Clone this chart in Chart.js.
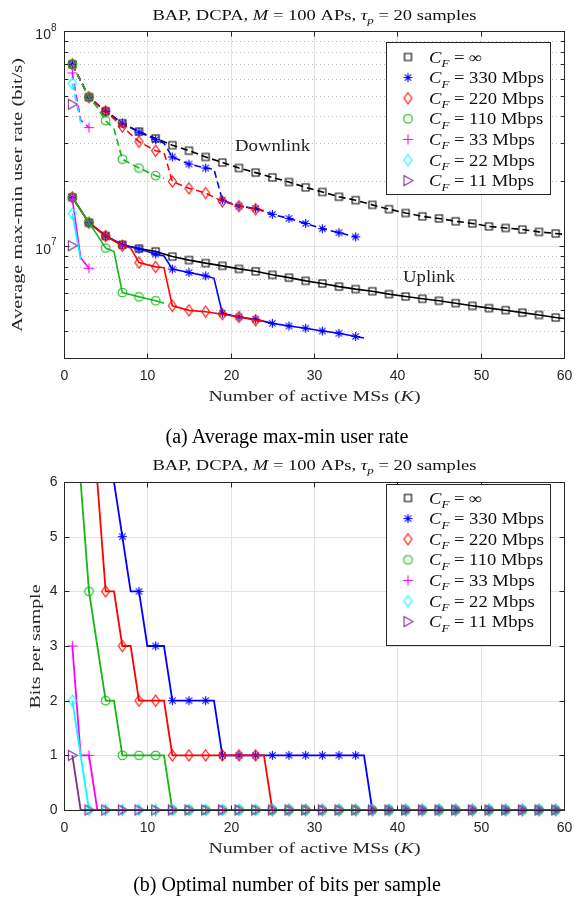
<!DOCTYPE html>
<html>
<head>
<meta charset="utf-8">
<script src="https://cdn.jsdelivr.net/npm/chart.js@4.4.1/dist/chart.umd.min.js"></script>
<style>
  body { margin: 0; background: #fff; width: 574px; height: 900px; position: relative; overflow: hidden; }
  canvas { position: absolute; left: 0; }
  #rate { top: 0; }
  #bits { top: 440px; }
  .cap { position: absolute; left: 0; width: 574px; text-align: center; font-family: "Liberation Serif", serif; font-size: 20px; color: #000; line-height: 22px; }
</style>
</head>
<body>
<canvas id="rate" width="574" height="440"></canvas>
<div class="cap" style="top:425px">(a) Average max-min user rate</div>
<canvas id="bits" width="574" height="460"></canvas>
<div class="cap" style="top:873px">(b) Optimal number of bits per sample</div>
<script>
// ---- données ----
const kTicks = [0, 10, 20, 30, 40, 50, 60];
const bitTicks = [0, 1, 2, 3, 4, 5, 6];
const rateMajor = [1e7, 1e8];
const rateMinor = [4e6, 5e6, 6e6, 7e6, 8e6, 9e6, 2e7, 3e7, 4e7, 5e7, 6e7, 7e7, 8e7, 9e7];
const seriesLabels = ['∞', '330 Mbps', '220 Mbps', '110 Mbps', '33 Mbps', '22 Mbps', '11 Mbps'];

// débit descendant [K, bit/s]
const dlInf = [[1,7.0e7],[3,4.92e7],[5,4.23e7],[7,3.72e7],[9,3.40e7],[11,3.16e7],[13,2.94e7],[15,2.77e7],[17,2.59e7],[19,2.44e7],[21,2.30e7],[23,2.19e7],[25,2.08e7],[27,1.98e7],[29,1.87e7],[31,1.78e7],[33,1.69e7],[35,1.63e7],[37,1.55e7],[39,1.48e7],[41,1.42e7],[43,1.37e7],[45,1.34e7],[47,1.30e7],[49,1.27e7],[51,1.23e7],[53,1.21e7],[55,1.19e7],[57,1.16e7],[59,1.14e7],[60,1.13e7]];
const dl330 = [[1,7.0e7],[3,4.92e7],[5,4.23e7],[7,3.72e7],[9,3.38e7],[11,3.12e7],[12,3.0e7],[13,2.59e7],[15,2.40e7],[17,2.30e7],[18,2.27e7],[19,1.63e7],[21,1.53e7],[23,1.49e7],[25,1.40e7],[27,1.34e7],[29,1.27e7],[31,1.20e7],[33,1.15e7],[35,1.10e7]];
const dl220 = [[1,7.0e7],[3,4.92e7],[5,4.23e7],[7,3.59e7],[9,3.05e7],[11,2.77e7],[12,2.72e7],[13,1.99e7],[15,1.85e7],[17,1.76e7],[19,1.61e7],[21,1.53e7],[23,1.48e7],[24,1.46e7]];
const dl110 = [[1,7.0e7],[3,4.92e7],[4,4.4e7],[5,3.82e7],[6,3.5e7],[7,2.53e7],[9,2.30e7],[11,2.12e7],[12,2.06e7]];
const dl33 = [[1,6.38e7],[2,3.85e7],[3,3.55e7]];
const dl22 = [[1,5.7e7],[2,3.75e7]];
const dl11 = [[1,4.56e7]];

// débit montant [K, bit/s]
const ulInf = [[1,1.68e7],[3,1.28e7],[5,1.11e7],[7,1.01e7],[9,9.7e6],[11,9.4e6],[13,8.9e6],[15,8.57e6],[17,8.3e6],[19,8.06e6],[21,7.8e6],[23,7.6e6],[25,7.32e6],[27,7.1e6],[29,6.86e6],[31,6.67e6],[33,6.45e6],[35,6.28e6],[37,6.14e6],[39,5.95e6],[41,5.8e6],[43,5.66e6],[45,5.54e6],[47,5.4e6],[49,5.25e6],[51,5.12e6],[53,5.01e6],[55,4.88e6],[57,4.76e6],[59,4.63e6],[60,4.58e6]];
const ul330 = [[1,1.68e7],[3,1.28e7],[5,1.11e7],[7,1.01e7],[9,9.65e6],[11,9.15e6],[12,8.95e6],[13,7.78e6],[15,7.5e6],[17,7.24e6],[18,7.05e6],[19,4.85e6],[21,4.66e6],[23,4.54e6],[25,4.35e6],[27,4.23e6],[29,4.13e6],[31,4.01e6],[33,3.91e6],[35,3.78e6],[36,3.72e6]];
const ul220 = [[1,1.68e7],[3,1.28e7],[5,1.11e7],[7,1.0e7],[8,9.75e6],[9,8.35e6],[11,7.97e6],[12,7.9e6],[13,5.25e6],[15,5.0e6],[17,4.93e6],[19,4.8e6],[21,4.66e6],[23,4.5e6],[24,4.45e6]];
const ul110 = [[1,1.68e7],[3,1.28e7],[4,1.12e7],[5,9.75e6],[6,9.4e6],[7,6.05e6],[9,5.78e6],[11,5.54e6],[12,5.4e6]];
const ul33 = [[1,1.65e7],[2,8.8e6],[3,7.85e6]];
const ul22 = [[1,1.41e7],[2,8.6e6]];
const ul11 = [[1,1.0e7]];

// bits par échantillon, K = 1..60 (∞ : hors graphe)
const bitsInf = [];
const bits330 = [9,8,8,7,7,6,5,4,4,3, 3,3,2,2,2,2,2,2,1,1, 1,1,1,1,1,1,1,1,1,1, 1,1,1,1,1,1,0,0,0,0, 0,0,0,0,0,0,0,0,0,0, 0,0,0,0,0,0,0,0,0,0];
const bits220 = [8,8,7,6,4,4,3,3,2,2, 2,2,1,1,1,1,1,1,1,1, 1,1,1,1,0,0,0,0,0,0, 0,0,0,0,0,0,0,0,0,0, 0,0,0,0,0,0,0,0,0,0, 0,0,0,0,0,0,0,0,0,0];
const bits110 = [7,6,4,3,2,2,1,1,1,1, 1,1,0,0,0,0,0,0,0,0, 0,0,0,0,0,0,0,0,0,0, 0,0,0,0,0,0,0,0,0,0, 0,0,0,0,0,0,0,0,0,0, 0,0,0,0,0,0,0,0,0,0];
const bits33 = [3,1,1,0,0,0,0,0,0,0, 0,0,0,0,0,0,0,0,0,0, 0,0,0,0,0,0,0,0,0,0, 0,0,0,0,0,0,0,0,0,0, 0,0,0,0,0,0,0,0,0,0, 0,0,0,0,0,0,0,0,0,0];
const bits22 = [2,1,0,0,0,0,0,0,0,0, 0,0,0,0,0,0,0,0,0,0, 0,0,0,0,0,0,0,0,0,0, 0,0,0,0,0,0,0,0,0,0, 0,0,0,0,0,0,0,0,0,0, 0,0,0,0,0,0,0,0,0,0];
const bits11 = [1,0,0,0,0,0,0,0,0,0, 0,0,0,0,0,0,0,0,0,0, 0,0,0,0,0,0,0,0,0,0, 0,0,0,0,0,0,0,0,0,0, 0,0,0,0,0,0,0,0,0,0, 0,0,0,0,0,0,0,0,0,0];

const dlSeries = [dlInf, dl330, dl220, dl110, dl33, dl22, dl11];
const ulSeries = [ulInf, ul330, ul220, ul110, ul33, ul22, ul11];
const bitSeries = [bitsInf, bits330, bits220, bits110, bits33, bits22, bits11];

// ---- style ----
const colors = ['#000000', '#0000ff', '#ff0000', '#14b814', '#ff00ff', '#00ffff', '#7e2f8e'];
const shapes = ['square', 'star', 'diamond', 'circle', 'plus', 'diamond', 'triangle'];
const AXIS = '#262626';
const SERIF = '"Liberation Serif", serif';
const SANS = '"Liberation Sans", Arial, sans-serif';

function markerCanvas(shape, color) {
    const c = document.createElement('canvas');
    c.width = 15; c.height = 15;
    const g = c.getContext('2d');
    const m = 7.5;
    g.strokeStyle = color;
    g.lineWidth = 1.1;
    g.beginPath();
    if (shape === 'square') g.rect(m - 3.5, m - 3.5, 7, 7);
    else if (shape === 'circle') g.arc(m, m, 4.3, 0, Math.PI * 2);
    else if (shape === 'diamond') { g.moveTo(m, m - 5.5); g.lineTo(m + 4, m); g.lineTo(m, m + 5.5); g.lineTo(m - 4, m); g.closePath(); }
    else if (shape === 'plus') { g.moveTo(m - 5, m); g.lineTo(m + 5, m); g.moveTo(m, m - 5); g.lineTo(m, m + 5); }
    else if (shape === 'star') {
        g.moveTo(m - 4.5, m); g.lineTo(m + 4.5, m); g.moveTo(m, m - 4.5); g.lineTo(m, m + 4.5);
        g.moveTo(m - 3.2, m - 3.2); g.lineTo(m + 3.2, m + 3.2); g.moveTo(m - 3.2, m + 3.2); g.lineTo(m + 3.2, m - 3.2);
    }
    else if (shape === 'triangle') { g.moveTo(m - 4, m - 5); g.lineTo(m + 5, m); g.lineTo(m - 4, m + 5); g.closePath(); }
    g.stroke();
    return c;
}
const markerImgs = shapes.map((s, i) => markerCanvas(s, colors[i]));

// texte "riche" : [texte, style] style: '' | 'i' | 'si' (indice italique)
function richWidth(ctx, parts, size) {
    let w = 0;
    parts.forEach(([t, s]) => { ctx.font = fontOf(s, size); w += ctx.measureText(t).width; });
    return w;
}
function fontOf(s, size) {
    return (s.includes('i') ? 'italic ' : '') + (s.includes('s') ? size * 0.7 : size) + 'px ' + SERIF;
}
function rich(ctx, parts, x, y, size, align, color, targetW, stretch) {
    const w = richWidth(ctx, parts, size);
    const sx = targetW ? targetW / w : (stretch || 1);
    const W = w * sx;
    const x0 = align === 'center' ? x - W / 2 : (align === 'right' ? x - W : x);
    ctx.save();
    ctx.translate(x0, y);
    ctx.scale(sx, 1);
    ctx.textAlign = 'left';
    ctx.textBaseline = 'alphabetic';
    ctx.fillStyle = color;
    let cx = 0;
    parts.forEach(([t, s]) => {
        ctx.font = fontOf(s, size);
        ctx.fillText(t, cx, s.includes('s') ? size * 0.28 : 0);
        cx += ctx.measureText(t).width;
    });
    ctx.restore();
}

const titleParts = [['BAP, DCPA, ', ''], ['M', 'i'], [' = 100 APs, ', ''], ['τ', 'i'], ['p', 'si'], [' = 20 samples', '']];
const xTitleParts = [['Number of active MSs (', ''], ['K', 'i'], [')', '']];

function legendParts(lbl) { return [['C', 'i'], ['F', 'si'], [' = ' + lbl, '']]; }

function line(ctx, x1, y1, x2, y2) { ctx.beginPath(); ctx.moveTo(x1, y1); ctx.lineTo(x2, y2); ctx.stroke(); }

function framePlugin(cfg) {
    return {
        id: 'frame',
        beforeDatasetsDraw(chart) {
            const { ctx, chartArea: a, scales: { x, y } } = chart;
            ctx.save();
            ctx.lineWidth = 1;
            ctx.strokeStyle = '#e2e2e2';
            kTicks.slice(1, -1).forEach(k => {
                const px = Math.round(x.getPixelForValue(k)) + 0.5;
                line(ctx, px, a.top, px, a.bottom);
            });
            cfg.yGrid.forEach(v => {
                const py = Math.round(y.getPixelForValue(v)) + 0.5;
                line(ctx, a.left, py, a.right, py);
            });
            ctx.strokeStyle = '#b8b8b8';
            ctx.setLineDash([1, 3]);
            cfg.yMinor.forEach(v => {
                const py = Math.round(y.getPixelForValue(v)) + 0.5;
                line(ctx, a.left, py, a.right, py);
            });
            ctx.restore();
        },
        afterDatasetsDraw(chart) {
            const { ctx, chartArea: a, scales: { x, y } } = chart;
            const L = Math.round(a.left) + 0.5, R = Math.round(a.right) + 0.5;
            const T = Math.round(a.top) + 0.5, B = Math.round(a.bottom) + 0.5;
            ctx.save();
            ctx.strokeStyle = AXIS;
            ctx.lineWidth = 1;
            ctx.strokeRect(L, T, R - L, B - T);
            // graduations x
            ctx.fillStyle = AXIS;
            ctx.font = '14px ' + SANS;
            ctx.textAlign = 'center';
            ctx.textBaseline = 'middle';
            kTicks.forEach(k => {
                const px = Math.round(x.getPixelForValue(k)) + 0.5;
                line(ctx, px, B, px, B - 5);
                line(ctx, px, T, px, T + 5);
                ctx.fillText(String(k), px, B + 18);
            });
            // graduations y
            cfg.yTicks.forEach(v => {
                const py = Math.round(y.getPixelForValue(v)) + 0.5;
                line(ctx, L, py, L + 5, py);
                line(ctx, R, py, R - 5, py);
            });
            cfg.yMinor.forEach(v => {
                const py = Math.round(y.getPixelForValue(v)) + 0.5;
                line(ctx, L, py, L + 3.5, py);
                line(ctx, R, py, R - 3.5, py);
            });
            cfg.yLabels(ctx, y, L);
            // titres
            rich(ctx, titleParts, (L + R) / 2, cfg.titleY, 15, 'center', '#111', 324);
            rich(ctx, xTitleParts, (L + R) / 2, B + 42, 15, 'center', AXIS, 212);
            ctx.save();
            ctx.translate(cfg.yTitleX, (T + B) / 2);
            ctx.rotate(-Math.PI / 2);
            rich(ctx, cfg.yTitle, 0, 0, 15, 'center', AXIS, cfg.yTitleW);
            ctx.restore();
            (cfg.notes || []).forEach(n => rich(ctx, [[n.text, '']], n.x, n.y, 17, 'left', '#222', n.w));
            // légende
            const lg = cfg.legend;
            ctx.fillStyle = '#fff';
            ctx.fillRect(lg.x, lg.y, lg.w, lg.h);
            ctx.strokeStyle = AXIS;
            ctx.strokeRect(lg.x + 0.5, lg.y + 0.5, lg.w, lg.h);
            const stretch = 115 / richWidth(ctx, legendParts(seriesLabels[1]), 16);
            seriesLabels.forEach((lbl, i) => {
                const cy = lg.y + lg.row0 + i * lg.step;
                ctx.drawImage(markerImgs[i], lg.x + 22 - 7.5, cy - 7.5);
                rich(ctx, legendParts(lbl), lg.x + 43, cy + 5.5, 16, 'left', '#111', null, stretch);
            });
            ctx.restore();
        }
    };
}

function pointRadius(c) { return c.raw && c.raw.x % 2 === 1 ? 4 : 0; }

// ---- graphe (a) ----
const rateSets = [];
colors.forEach((col, i) => {
    [[dlSeries[i], [7, 4]], [ulSeries[i], []]].forEach(([pts, dash]) => {
        rateSets.push({
            data: pts.map(([k, v]) => ({ x: k, y: v })),
            borderColor: col, borderWidth: 1.6, borderDash: dash,
            pointStyle: markerImgs[i], pointRadius: pointRadius, pointHoverRadius: 0,
            fill: false, tension: 0, order: 6 - i,
            clip: { left: 10, right: 10, top: 10, bottom: 10 }
        });
    });
});

function supLabel(ctx, py, exp, L) {
    ctx.textAlign = 'right';
    ctx.textBaseline = 'middle';
    ctx.font = '10px ' + SANS;
    const ew = ctx.measureText(exp).width;
    ctx.fillText(exp, L - 8, py - 3);
    ctx.font = '14px ' + SANS;
    ctx.fillText('10', L - 8 - ew, py + 4);
}

new Chart(document.getElementById('rate'), {
    type: 'line',
    data: { datasets: rateSets },
    options: {
        responsive: false, animation: false,
        layout: { padding: { left: 64, right: 10, top: 31, bottom: 82 } },
        scales: {
            x: { type: 'linear', min: 0, max: 60, display: false },
            y: { type: 'logarithmic', min: 3e6, max: 1e8, display: false }
        },
        plugins: { legend: { display: false }, tooltip: { enabled: false } }
    },
    plugins: [framePlugin({
        yGrid: [1e7], yTicks: rateMajor, yMinor: rateMinor,
        yLabels: (ctx, y, L) => { supLabel(ctx, y.getPixelForValue(1e7), '7', L); supLabel(ctx, y.getPixelForValue(1e8), '8', L); },
        titleY: 19.5,
        yTitle: [['Average max-min user rate (bit/s)', '']], yTitleX: 22, yTitleW: 274,
        notes: [{ text: 'Downlink', x: 235, y: 151, w: 75 }, { text: 'Uplink', x: 403, y: 282, w: 52 }],
        legend: { x: 386, y: 42, w: 164, h: 152, row0: 15, step: 20.6 }
    })]
});

// ---- graphe (b) ----
const bitSets = bitSeries.map((vals, i) => ({
    data: vals.map((v, j) => ({ x: j + 1, y: v })),
    borderColor: colors[i], borderWidth: 1.8,
    pointStyle: markerImgs[i], pointRadius: pointRadius, pointHoverRadius: 0,
    fill: false, tension: 0, order: 6 - i,
    clip: { left: 10, right: 10, top: 0, bottom: 10 }
}));

new Chart(document.getElementById('bits'), {
    type: 'line',
    data: { datasets: bitSets },
    options: {
        responsive: false, animation: false,
        layout: { padding: { left: 64, right: 10, top: 42, bottom: 90 } },
        scales: {
            x: { type: 'linear', min: 0, max: 60, display: false },
            y: { type: 'linear', min: 0, max: 6, display: false }
        },
        plugins: { legend: { display: false }, tooltip: { enabled: false } }
    },
    plugins: [framePlugin({
        yGrid: bitTicks.slice(1, -1), yTicks: bitTicks, yMinor: [],
        yLabels: (ctx, y, L) => {
            ctx.textAlign = 'right'; ctx.textBaseline = 'middle'; ctx.font = '14px ' + SANS;
            bitTicks.forEach(v => ctx.fillText(String(v), L - 7, y.getPixelForValue(v)));
        },
        titleY: 30,
        yTitle: [['Bits per sample', '']], yTitleX: 40, yTitleW: 124,
        legend: { x: 386, y: 44, w: 164, h: 161, row0: 14, step: 20.6 }
    })]
});
</script>
</body>
</html>
